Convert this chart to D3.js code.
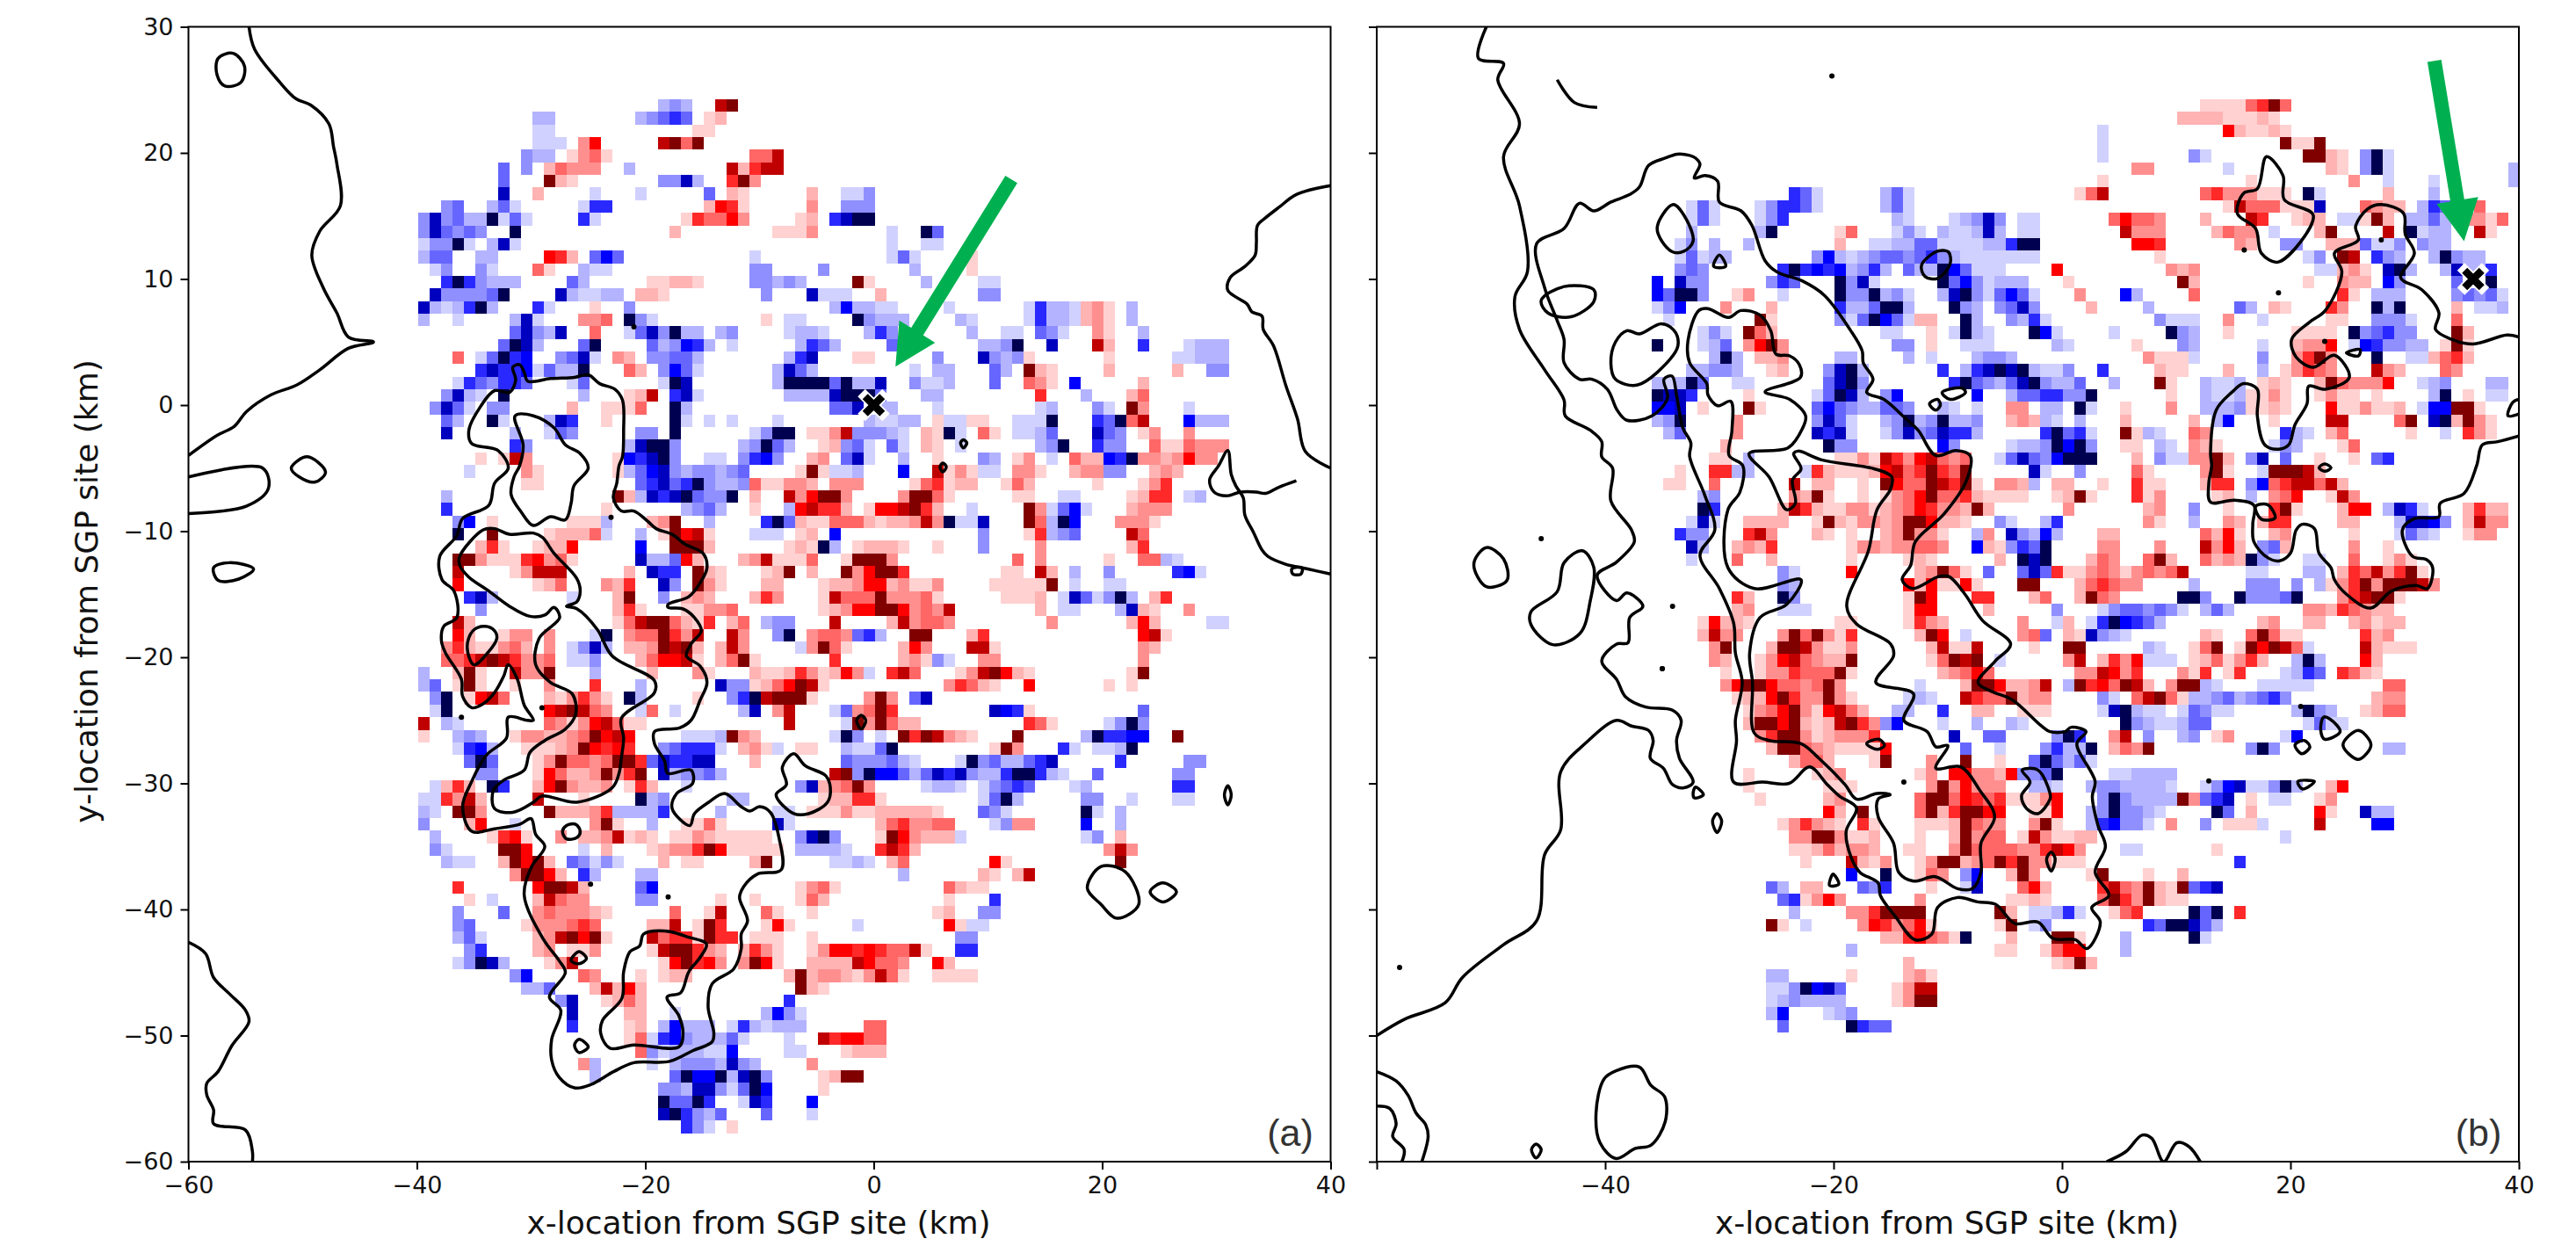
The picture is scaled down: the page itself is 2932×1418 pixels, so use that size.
<!DOCTYPE html>
<html>
<head>
<meta charset="utf-8">
<script src="https://cdn.jsdelivr.net/npm/d3@7"></script>
<style>
html, body { margin: 0; padding: 0; background: #fff; }
svg { display: block; }
text { font-family: "DejaVu Sans", sans-serif; fill: #111; }
</style>
</head>
<body>
<script>

const xTicks = [-60, -40, -20, 0, 20, 40];
const yTicks = [-60, -50, -40, -30, -20, -10, 0, 10, 20, 30];

const levelKeys = "abcdefghABCDEFGH";
const levelValues = [-.09, -.15, -.22, -.3, -.42, -.5, -.68, -.99, .09, .15, .22, .3, .42, .5, .75, 1];

// each row: y, then pairs of x start and a run of levels ("." is empty)
const cellsA = [
[23,-19,"bcb",-14,"GH"],[22,-30,"bb",-21,"bcded.AB"],[21,-30,"aa",-16,"AA"],[20,-30,"aaa",-26,"CF",-19,"GHDH"],
[19,-31,"cbb",-27,"ACDA",-11,"DDG"],[18,-33,"d",-31,"c",-29,"BDCCC",-22,"b",-13,"GBEGG"],[17,-33,"d",-29,"HBA",-19,"ccgb",-13,"EHC"],
[16,-33,"g",-30,"B",-25,"a",-21,"a",-15,"d",-13,"BA",-6,"B"],[15,-38,"cd",-34,"bda",-26,"aee",-15,"BFEA",-6,"C"],
[14,-40,"cgcdbbhada",-26,"ea",-17,"AEDDFC",-7,"AB"],[13,-40,"cgdcdc",-32,"h",-18,"B",-9,"AAAC"],[12,-40,"accha.bga"],
[11,-40,"bdd",-35,"bb",-29,"FEB",-25,"dfd",-11,"a"],[10,-39,"ac",-35,"ca",-30,"DA",-26,"baa",-11,"cc",-5,"c"],
[9,-38,"ehecbbb",-27,"db",-20,"AABBA",-11,"ccbcb"],[8,-39,"gccccdh",-28,"gbaabb",-21,"BBA",-10,"c",-6,"ga"],
[7,-40,"gbabehb",-30,"ea",-25,"A",-22,"c"],[6,-40,"b",-37,"a",-32,"bga",-26,"CCD",-22,"hca",-10,"A",-8,"aa"],
[5,-32,"dgcbg",-25,"D",-22,"adgchbb",-14,"bc",-8,"abbb"],[4,-33,"dhgb",-26,"dh",-20,"dbcfeb",-13,"a",-7,"bed"],
[3,-37,"D",-35,"adhef",-28,"cdga",-23,"CB",-20,"ccddb",-8,"beg"],[2,-35,"egeefadbbh",-22,"DB",-19,"cfda",-9,"bgdb"],
[1,-37,"aedceed",-27,"ad",-19,"ahg",-9,"bhhhh"],[0,-38,"cgba",-33,"h",-26,"b",-22,"ABG",-18,"ega",-8,"bbbb"],
[-1,-39,"cgda",-34,"cc",-27,"B",-24,"AAAD",-18,"hb"],[-2,-38,"db",-34,"ha",-29,"bge",-24,"A",-18,"ha",-15,"a",-13,"a",-9,"a"],
[-3,-38,"g",-32,"b",-29,"adc",-21,"cc",-18,"h",-11,"achh",-6,"AA"],[-4,-32,"ec",-22,"bghhc",-12,"bchdb",-5,"A"],
[-5,-35,"A",-33,"AGC",-23,"Afeghc",-15,"aa",-12,"cefc",-6,"BC"],[-6,-36,"a",-31,"CA",-23,"Abdfgcbccbcd",-7,"AHA"],
[-7,-31,"AA",-21,"degdehcbbc",-11,"DAACCB"],[-8,-38,"b",-23,"HBbgeghdcch",-11,"B",-8,"GCFH"],
[-9,-38,"e",-24,"A",-17,"bcdb",-11,"A",-8,"bFGF"],[-10,-37,"cf",-34,"A",-27,"AAAb",-20,"BCH",-15,"b",-10,"ehd",-7,"BAA"],
[-11,-37,"h",-34,"H",-29,"ABBBDa",-21,"b",-19,"AHFGA",-11,"aaa",-7,"AB"],[-12,-35,"BEA",-30,"ABBF",-21,"f",-18,"HHHB",-8,"ABAh"],
[-13,-37,"HHCAAAEFCDA",-21,"gbbdFB",-12,"BCGAAAD"],[-14,-37,"G",-32,"ACGGG",-22,"B",-20,"gee",-16,"HBA",-10,"ABH.B"],
[-15,-37,"F",-30,"ABD",-24,"CBE",-19,"gc",-16,"HCA",-10,"BB",-5,"A"],[-16,-36,"egb",-27,"a",-23,"BH",-19,"c",-17,"BCB",-11,"BEC",-5,"A"],
[-17,-35,"c",-23,"BEA",-17,"AACCD"],[-18,-37,"GB",-23,"ADGHHDBAE",-13,"BD",-10,"bcc"],
[-19,-37,"FB",-33,"ACC",-29,"C",-25,"ah",-22,"CDDHECG",-13,"GC",-9,"ch",-6,"CC"],[-20,-38,"CEBAACDB",-29,"C",-27,"acgb",-22,"BBCHGHB",-14,"BGC",-7,"aCH"],
[-21,-38,"DDEGHGECCD",-27,"aac",-21,"BDFFGA",-14,"BDH",-11,"A"],[-22,-40,"b",-37,"BHA",-32,"GCCH",-25,"b",-20,"B",-16,"CA",-11,"BAABECB"],
[-23,-40,"bd",-37,"AHA",-32,"A",-29,"C",-25,"E",-21,"b",-14,"gccABDFHGB"],[-24,-39,"ch",-36,"AFGD",-29,"BACECA",-22,"hb",-16,"A",-13,"cehGHHHA"],
[-25,-39,"ah",-29,"FGHGDC",-21,"aD",-18,"a",-12,"bg",-9,"CG"],[-26,-40,"G",-38,"ba",-29,"DCACFGDAA",-8,"G"],
[-27,-40,"A",-37,"bcb",-32,"ACCBBCDHFGF",-17,"aaabHCB"],[-28,-37,"aefb",-31,"AAABCHFEFE",-19,"cdeeea",-12,"BCAa",-7,"AA"],
[-29,-36,"dhd",-30,"ACHDDCDHHEdgeegg",-11,"B"],[-30,-35,"cc",-30,"AFDBBCHCEH",-19,"gbccdb"],
[-31,-39,"aBEB.he",-30,"BFHCBBC",-22,"AEB",-17,"a",-7,"cgB"],[-32,-40,"aaECGB",-30,"G",-26,"A",-21,"hbc",-13,"bb"],
[-33,-40,"ba",-37,"HHC",-29,"HBBBCEbbbbe",-14,"b",-9,"aa",-6,"AA"],[-34,-40,"c",-36,"BF",-32,"a",-25,"CHA",-20,"b",-17,"AADA",-9,"ga"],
[-35,-39,"b",-34,"AEFA",-28,"C",-26,"BBCGABA",-18,"AACBAAAAA",-7,"cgh"],[-36,-39,"ca",-33,"HHF",-26,"a",-24,"B",-20,"ABCCEHFAAAAA",-7,"bbb"],
[-37,-38,"baa",-33,"BHFHB",-27,"dcaca",-19,"B",-17,"AA",-11,"BH",-4,"aaba",1,"BD"],[-38,-32,"CHHFB",-26,"eb",-21,"bb",2,"b",9,"BA"],
[-39,-37,"E",-30,"FHHGB",-21,"df",-7,"ACDA",6,"DBAA"],[-40,-36,"A",-34,"a",-30,"BGDCC",-21,"cc",-14,"A",-11,"A",-7,"ADB",6,"A",10,"e"],
[-41,-37,"c",-33,"d",-30,"CDCCCBA",-18,"D",-15,"AG",-10,"DA",-6,"A",5,"AB",9,"cc"],[-42,-37,"cd",-31,"ACCCDED",-20,"BBG",-16,"AHE",-10,"AFA",-2,"a",6,"FAaa"],
[-43,-37,"bda",-30,"BCGHFHA",-20,"GDEEAHEE",-11,"AAA",-6,"A",7,"cc"],[-44,-36,"ce",-30,"BC",-27,"AAC",-20,"AGHHECB",-12,"BECA",-6,"ACFFEFEDDGA",7,"ee"],
[-45,-37,"achgb",-29,"ACG",-19,"AFHEFC",-12,"CHFA",-6,"BBBBGFDDC",5,"FB"],[-46,-32,"cf",-26,"DC",-21,"A",-19,"ABB",-8,"BHBCCBACGDA",5,"AAAA"],
[-47,-31,"bbd",-25,"BGBFB",-7,"HBA"],[-48,-28,"cg",-24,"ABDB",-8,"e"],[-49,-27,"g",-22,"BB",-18,"a",-10,"bfca"],
[-50,-27,"e",-22,"AB",-19,"bfbbb",-13,"aebabbb",-1,"DD"],[-51,-22,"ADaefcbbb",-13,"da",-8,"a",-5,"GEFFDD"],
[-52,-21,"Dcabbbaaf",-8,"aa",-3,"ABBB"],[-53,-26,"Cb",-20,"a",-18,"bcccbgcb",-6,"C"],[-54,-25,"b",-18,"dhffhbghc",-5,"ABHH"],
[-55,-19,"ccbggcadhf",-5,"A"],[-56,-19,"hddhe",-12,"age",-6,"f"],[-57,-19,"ghecbd",-10,"d",-6,"a"],[-58,-17,"eca",-13,"A"],
[16,-3,"aac"],[15,-3,"ccc"],[14,-4,"eghh"],[13,1,"a",4,"hd"],[12,1,"a",4,"aa"],[11,1,"ada",8,"A"],[10,-5,"c",3,"b",8,"A"],
[9,-2,"HA",4,"b",9,"aa"],[8,-4,"aa",0,"B",9,"cc"],[7,-4,"bfbbaa",6,"a",13,"aebbaBCA",22,"b"],[6,-2,"hcbbb",7,"ba",13,"aebbaBCA",22,"b"],
[5,-5,"a",-1,"bec",8,"b",11,"aa",14,"dca",19,"CA",23,"b"],[4,-4,"b",1,"d",9,"bbch",15,"g",19,"GB",23,"e",27,"abbb"],
[3,-2,"AA",5,"c",9,"gcbcA",20,"A",26,"aabbb"],[2,3,"a",5,"bb",10,"db",13,"HBA",20,"B",26,"B",29,"cc"],
[1,-5,"hdhbbg",3,"caab",10,"d",13,"DCA",17,"f",23,"B"],[0,-4,"ghhhd",4,"bb",14,"E",18,"b",22,"BD"],
[-1,-4,"ddg.bb",5,"a",14,"ab",19,"ca",22,"HC",27,"a"],[-2,-1,"baabb",5,"AaaAA",12,"aaah",19,"edhDG",27,"fbbb"],
[-3,-5,"ACGcccba",4,"BAha",9,"DA",12,"aabd",19,"gdc",23,"AC",27,"C"],[-4,-5,"ABcda",1,"da",4,"BA",7,"a",14,"bch",19,"ecc",24,"DAADCCC"],
[-5,-5,"C",-3,"dga",2,"b",5,"A",9,"cb",12,"AC",15,"a",17,"DBBfehCCBCFCC"],[-6,-4,"aab",2,"f",5,"GACAaa",12,"CCA",17,"BCCcc",24,"BCB"],
[-7,-4,"CCC",3,"ADEABB",11,"ADB",19,"A",23,"ACE"],[-8,-5,"HHC",2,"CHHDA",12,"AA",16,"aa",22,"ABEE",27,"ab"],
[-9,-5,"EEB",-1,"AFFGHEB",8,"a",13,"HCadfa",22,"BCCC"],[-10,-4,"DDDBABBCGChaag",13,"HDbhf",21,"CCCA"],
[-11,-4,"f",9,"c",13,"AEbcd",22,"GD"],[-12,-5,"hb",-2,"ABBBA",5,"A",9,"c",14,"C",22,"BE"],[-13,-3,"AHHHC",12,"D",14,"C",20,"A",23,"DDba"],
[-14,-3,"HCFHHE",11,"AA",14,"GB",17,"b",20,"c",26,"efa"],[-15,-5,"ABBCFFBCAAC",10,"AAAAAH",17,"a",20,"aa"],
[-16,-4,"GDDDHCCCDA",11,"AAAB",16,"agdachb",24,"BE"],[-17,-5,"ABCFFHHFCDCG",14,"B",16,"aa",21,"bgBA",27,"C"],
[-18,-4,"G",1,"BGCDDC",15,"C",22,"BFB",29,"aa"],[-19,-5,"DDCdeb",3,"HH",8,"BE",23,"FGA"],[-20,-5,"HDA",2,"BFC",8,"GGA",23,"CB"],
[-21,-4,"E",2,"BCAca",9,"CC",23,"C"],[-22,-5,"ABFCa",1,"EGD",7,"ACGHFBA",22,"AH"],[-23,-5,"A",6,"CEDBA",13,"F",20,"A",22,"A"],
[-24,-1,"CHC",3,"dg"],[-25,-4,"adCDHE",10,"gfeA",23,"d"],[-26,-3,"aHCHDBB",13,"EDA",20,"achc"],
[-27,-4,"ahc.a.HEHGCBA",12,"H",18,"bheeff",26,"H"],[-28,-3,"baadh",10,"AHC",16,"ea",19,"aabh"],[-29,-3,"dcccdba",7,"ahcdbbdeg",21,"e",27,"cc"],
[-30,-4,"GHchffdbdgegcbbehheba",19,"d",26,"cc"],[-31,-4,"CDHC",4,"abba",9,"acded",17,"ab",26,"ee"],[-32,-5,"ABBEEA",9,"adhb",18,"cc",22,"a",26,"aa"],
[-33,-4,"ACAABBBBBA",9,"dca",18,"ha",21,"b"],[-34,0,"BDECCDD",10,"acCC",18,"f",21,"b"],[-35,-5,"hc",0,"AHFCBBBa",18,"ac",21,"B"],
[-36,-4,"ba",0,"EGEB",20,"CGC"],[-37,10,"FA",21,"H"],[-38,12,"BG"]
];

const cellsB = [
[16,-24,"eda",-16,"bda"],[15,-33,"ada",-27,"aceeda",-16,"bda"],[14,-33,"ada",-27,"ace",-15,"ba",-10,"abcgc",-4,"aa"],
[13,-33,"b",-27,"bh",-20,"AD",-15,"aca",-11,"baabgb",-4,"aa"],[12,-34,"ac",-31,"b",-28,"b",-20,"B",-17,"aabbddaaaabbehh"],
[11,-34,"adabb",-22,"cfbabcddcdecb",-9,"aaaaaaa"],[10,-34,"cdc",-25,"ehefefbceb",-14,"dbbhfdaaa",-1,"F"],
[9,-36,"f",-34,"gcc",-26,"ced",-20,"hcga",-11,"hdfcabbb"],[8,-36,"fdhhc",-29,"AC",-25,"a",-20,"hcchbca",-11,"bghcadfda"],
[7,-36,"acf",-30,"C",-26,"B",-20,"ebbdhhb",-10,"hcb.cdgc"],[6,-35,"a",-27,"HA",-20,"cadhfdaBB",-9,"hb",-5,"cbea"],
[5,-32,"aca",-28,"HDB",-16,"aa",-12,"A",-10,"ahba",-3,"hf"],[4,-36,"h",-32,"abd",-28,"CFHC",-15,"cc",-12,"A",-9,"aaa",-1,"a"],
[3,-31,"bhb",-27,"BBC",-20,"bb",-14,"b",-12,"a",-8,"bccb"],[2,-33,"bbccb",-26,"AB",-21,"cghb",-11,"e",-9,"beghghbaa"],
[1,-36,"babhd",-29,"aa",-21,"dghc",-10,"ehdcbdghcb"],[0,-36,"hgge",-28,"A",-22,"adhgb",-16,"cf",-8,"f",-5,"bddee"],
[-1,-36,"ffg",-32,"A",-28,"HA",-22,"dfdcbbddc",-11,"ba",-8,"a",-5,"CC",-2,"bb"],[-2,-36,"bch",-29,"C",-22,"cgda",-16,"bchbchbbc",-5,"BCBbb"],
[-3,-35,"bd",-29,"C",-22,"gega",-16,"acgcdgeeb",-2,"eh"],[-4,-30,"B",-21,"hcc",-11,"fc",-5,"abbch"],
[-5,-31,"AA",-28,"b",-20,"AACAGECFGDCD",-6,"adgdceh"],[-6,-34,"A",-31,"EEbb",-23,"aEBAAABFGDEHEDH",-3,"ga"],
[-7,-35,"AA",-31,"D",-24,"G",-22,"BB",-18,"A",-16,"HFDDHGEHA",-6,"CCBb",-1,"BC"],[-8,-32,"bc",-24,"CBHA",-18,"A",-16,"ACDFHDDEBAAAA",-1,"AA"],
[-9,-32,"he",-25,"BGEBAACCAB",-15,"CDFECCBHB",0,"D"],[-10,-33,"aga",-28,"BBBB",-22,"AHBACC",-16,"BCHHFBBA",-6,"ca",-2,"be"],
[-11,-34,"ecc",-28,"EGC",-22,"BA",-19,"A",-16,"BCHCCA",-8,"bC",-5,"gcbfb"],[-12,-33,"gb",-29,"BCBE",-19,"ACCBCCDDC",-8,"fBA",-5,"cedh"],
[-13,-33,"a",-29,"D",-26,"B",-19,"A",-14,"ABA",-6,"B",-4,"hgh"],[-14,-25,"ca",-19,"F",-13,"BCHDA",-7,"d",-4,"dgdEA"],
[-15,-25,"cb",-14,"FBFAAFA",-4,"HH"],[-16,-29,"EB",-25,"hc",-14,"AHF",-8,"EE",-3,"BD"],[-17,-29,"BC",-25,"aaa",-14,"AFF",-7,"B",-1,"c"],
[-18,-32,"AFBBA",-20,"AA",-14,"AECB",-4,"C",-1,"aB"],[-19,-32,"BGCC",-25,"CHDHCAE",-13,"BHF.a",-4,"CDd",0,"B"],
[-20,-31,"CH",-26,"BHHGCAAC",-12,"BGAAG",-3,"A",0,"H"],[-21,-31,"CB",-27,"ACFGDCBBH",-12,"ADHGH",-6,"a",0,"C"],
[-22,-30,"A",-27,"ACCEDDDHA",-11,"BCDFD"],[-23,-30,"CFHHFDDCDHC",-13,"a",-9,"BHHFBBCG",0,"b"],[-24,-29,"ABBFHECCHCA",-14,"aba",-9,"GEDDHBCC"],
[-25,-28,"ACDFHCAFGDB",-15,"bb",-11,"e",-8,"BB",-4,"AAA"],[-26,-28,"BHHFHBABGHECcf",-11,"a",-8,"b",-5,"ba"],
[-27,-27,"CEHHCABCCCE",-10,"g",-7,"dd",-1,"ch"],[-28,-26,"BHHDCBAAAAF",-9,"d",-6,"a",-2,"cec"],
[-29,-24,"BDDB",-17,"AH",-12,"C",-9,"H",-6,"A",-3,"dhda"],[-30,-28,"A",-22,"ABC",-13,"AC",-10,"FFCCBFccdg"],
[-31,-28,"A",-21,"AAA",-12,"CHCFCCC",-3,"bba"],[-32,-27,"A",-21,"BC",-13,"DHHDFEDE",-5,"AAACF"],[-33,-21,"FB",-18,"H",-13,"DHBEHHFF",-3,"AAF"],
[-34,-25,"ACECBA",-18,"EA",-13,"AAABHDCC",-3,"CHA"],[-35,-24,"CCHHCAAB",-13,"A",-10,"BHCDD",-4,"AGCAABB"],
[-36,-24,"AABDBCCB",-14,"AA",-10,"CHDDDDCCEGFC",5,"aa",13,"A"],[-37,-23,"A",-19,"GBAC",-13,"ACHHBCDHEHCCAAA",15,"e"],
[-38,-19,"f",-16,"h",-13,"ADC",-9,"cf",-5,"BHC",2,"AH",7,"A",10,"B"],[-39,-26,"db",-23,"BB",-18,"dce",-12,"A",-9,"ag",-4,"DFB",3,"EGDCHBAH",11,"deg"],
[-40,-25,"deACFC",-13,"C",-5,"AABA",3,"DHECHBAA"],[-41,-24,"b",-19,"CCEHHHH",-6,"HB",-3,"aabea",4,"ADE",11,"hdh",15,"E"],
[-42,-26,"HA",-23,"a",-18,"CFECDFA",-6,"AH",-3,"ac",7,"edhhgdb"],[-43,-16,"BBEFDCAh",-5,"B",-1,"HHA",5,"b",11,"ha"],
[-44,-19,"b",-6,"AA",-2,"ADFF",5,"b"],[-45,-14,"B",-1,"ABHB"],[-46,-26,"bb",-19,"A",-14,"BCA"],[-47,-26,"aachfgd",-15,"ACGG"],
[-48,-26,"abcbbbb",-15,"ACHH"],[-49,-26,"bf",-21,"abc"],[-50,-25,"d",-19,"hedd"],
[23,12,"AAAADEHD"],[22,10,"BBBBAAABA"],[21,3,"a",14,"FBAABA"],[20,3,"a",19,"HAA",22,"H"],[19,3,"a",11,"ca",21,"HHBA",26,"cha"],
[18,6,"CC",14,"a",23,"BA",26,"cha",39,"b"],[17,3,"A",16,"A",25,"C",28,"a",32,"a",39,"b"],[16,1,"ADG",12,"DECCCAAA",21,"ha",28,"B",32,"b"],
[15,14,"AGDDDAAAg",26,"DCBB",31,"bed",36,"D"],[14,4,"DFDDC",12,"B",16,"GE",20,"ABB",24,"aaAHB",30,"bbdb",35,"CCAD"],
[13,5,"GCCC",13,"BDCC",18,"a",22,"BH",28,"G",30,"habb",36,"GA"],[12,6,"FFE",15,"CB",19,"cc",23,"BBBdaac",31,"cbb"],
[11,8,"A",21,"ac",24,"HG.ecb",32,"bhcbb"],[10,-1,"F",9,"CBC",22,"aaBCA",28,"ghb",33,"bgbbe"],[9,0,"A",10,"HB",21,"A",24,"CBB",28,"fc",34,"d",37,"h"],
[8,1,"C",5,"fb",11,"D",24,"EA",27,"bbb",34,"cdcda"],[7,2,"B",7,"b",15,"db",18,"BA",23,"EC",27,"hbh",34,"B",36,"aab"],
[6,8,"caaa",14,"C",17,"a",23,"AA",27,"ccca",34,"D"],[5,-1,"a",4,"a",9,"hcb",14,"A",20,"AAAA",25,"hcdecc",34,"HB"],
[4,-1,"ba",6,"A",10,"cb",17,"a",20,"BCCF",25,"afeccbb",33,"AHA"],[3,7,"CAAAa",17,"c",20,"CEHC",27,"h",30,"aa",32,"BDEB"],
[2,-1,"ac",3,"e",8,"BAA",14,"B",17,"b",19,"ACEDC",27,"GCB",33,"DC"],[1,-1,"bbd",4,"b",8,"HA",12,"baab",17,"ABA",22,"BHDCCCF",31,"abc",37,"bb"],
[0,-1,"ecch",9,"A",12,"baabAACA",22,"ACAA",27,"A",32,"bh",35,"A",37,"aa"],[-1,-1,"b.ha",5,"A",9,"C",12,"bbbcAABA",23,"FAACAAB",31,"affHHA"],
[-2,-1,"a.b",5,"B",11,"B",13,"bf",18,"A",23,"GG",29,"DH",32,"ghBHCA"],[-3,-1,"hdea",5,"HAba",11,"DC",19,"eba",23,"BD",30,"A",33,"a",35,"ECA"],
[-4,-1,"hfhc",5,"AA",8,"ba",11,"CBA",18,"acb",24,"AD"],[-5,-1,"fhhh",6,"B",8,"caa",11,"CCHB",16,"cg.d",22,"A",25,"A",27,"de"],
[-6,1,"c",6,"DA",12,"CHA",17,"aHHHGB"],[-7,0,"B",3,"A",6,"EAA",12,"BEE",16,"cfDEGGDGB"],[-8,-1,"ABHA",6,"EAC",13,"AB",16,"b.CDF",23,"AGC"],
[-9,0,"C",7,"BC",11,"c",14,"A",18,"EHA",24,"BFF",28,"bgea",35,"BEBB"],[-10,-1,"e",7,"CA",11,"b",14,"CB",17,"BEE",24,"BB",29,"bggfc",35,"BGCC"],
[-11,-1,"b",3,"BB",12,"DBFA",18,"BC",25,"A",29,"adba",35,"ACC"],[-12,3,"CC",8,"C",12,"GCFB",17,"cdB",25,"C",28,"A"],
[-13,2,"BDC",7,"DHB",12,"DBCBhca",21,"aa",25,"D",28,"ACA"],[-14,-1,"EAACDCACDCDG",16,"aa",21,"bb",24,"BEDGCEHA"],
[-15,1,"BDEDCC",11,"b",16,"ccc",20,"c",22,"bACEHCHHHGC"],[-16,1,"BHDC",10,"hhc",15,"hcccdh",24,"CEGHHA"],[-17,-1,"c",3,"acddcdca",12,"bdb",21,"CCBEDCBB"],
[-18,-1,"aB",2,"aehfedb",17,"BC",21,"BB",25,"BCABB"],[-19,0,"BAgcba",12,"BA",16,"DHDAA",26,"EBC"],[-20,0,"HH",7,"ba",11,"ADH",15,"AHFHGDa",26,"GBAAA"],
[-21,0,"CG",3,"BECFaaa",11,"ABDACEB",20,"bhb",26,"FB"],[-22,1,"CCGFCE",10,"CAE.AE",19,"abed",24,"EDBA"],[-23,0,"bHEFDHGB.CHHba",17,"aaaaa",28,"DD"],
[-24,3,"ca.DGHDAbbcdbcdec",27,"BCC"],[-25,3,"aghbaa.adcaa",20,"bhcb",26,"ABDD"],[-26,5,"hcbaabdd",21,"adaa"],[-27,-1,"che",4,"CG.c",10,"bc",13,"AC",19,"af"],
[-28,-1,"ebbh",4,"BDCH",16,"chc",28,"bb"],[-29,-1,"dbda"],[-30,-1,"h",4,"aabbbb"],[-31,-1,"a",2,"bccbbbba",12,"acfgaachb",23,"BF"],
[-32,3,"chcbbbbHCdeg",16,"A",18,"aa",22,"AC"],[-33,2,"bchccba",13,"hd",16,"B",22,"FA",26,"gbb"],[-34,2,"befcca",9,"C",12,"c",14,"AAAa",22,"G",27,"ff"],[-35,19,"a"]
];

// closed contours, panel (a)
const loopsA = [
[[-31.6,3],[-31,3.2],[-30.6,2.6],[-30.3,1.9],[-28.3,2.1],[-26.2,2.2],[-25,2.4],[-24,1.7],[-22.65,1.25],[-22,.4],[-21.9,-2],[-22,-4.1],[-22.3,-4.8],[-22.5,-6.2],[-22.8,-7.35],[-22.1,-8.4],[-21,-8.4],[-19.8,-9.2],[-19.05,-9.8],[-17.65,-10.25],[-16.5,-11.05],[-14.95,-11.75],[-14.6,-12.9],[-15.2,-14.1],[-16.2,-15.2],[-18,-15.8],[-18,-16.05],[-16.75,-16.15],[-15.7,-16.85],[-15.1,-17.9],[-16,-18.95],[-16.4,-19.9],[-15.2,-20.7],[-14.6,-22],[-15.2,-23.4],[-16,-25],[-17,-25.6],[-19.2,-25.9],[-19.2,-26.85],[-18.3,-28.25],[-18.05,-29.2],[-16,-28.95],[-15.85,-30],[-17.25,-30.8],[-17.65,-32],[-16.1,-33.35],[-15.7,-32.4],[-14.45,-31.5],[-13.05,-30.8],[-11.6,-31.85],[-10.85,-32.2],[-10,-31.85],[-9.05,-32.3],[-8.3,-34.3],[-8.1,-36.85],[-10.2,-37.2],[-11.4,-38.2],[-11.75,-39.05],[-11.05,-40.9],[-11.6,-41.95],[-11.6,-43.1],[-12.25,-44.7],[-14.15,-45.9],[-14.5,-47.75],[-14,-49.8],[-14.15,-50.5],[-15.85,-51.2],[-17.9,-52.05],[-21,-52.15],[-22.75,-52.85],[-24.8,-53.9],[-26.2,-54.15],[-27.55,-53.3],[-28.2,-51.95],[-28.2,-50.3],[-27.4,-48],[-28.4,-46.95],[-27,-45],[-27.55,-44.05],[-28.9,-42.4],[-30.6,-38.9],[-29.95,-36.6],[-28.8,-35],[-29.6,-34.05],[-30,-32.8],[-31,-33.25],[-33.2,-33.6],[-35.2,-33.8],[-36,-31.85],[-35.2,-29.85],[-33.95,-27.8],[-32.15,-26.4],[-32,-24.75],[-30.35,-25],[-29.8,-25],[-30.6,-23.8],[-31.2,-21.75],[-32,-20.6],[-32.4,-21.5],[-33.2,-22.8],[-34.2,-23.7],[-35.2,-24],[-36,-23.1],[-36.1,-21.75],[-37.5,-19.65],[-37.85,-18.7],[-37.65,-17.55],[-36.5,-16.85],[-36.75,-14.75],[-37.8,-13.85],[-38,-12],[-36.5,-10.35],[-36,-9],[-33.7,-7.95],[-33.2,-6.2],[-32,-5],[-32.9,-3.6],[-35.2,-3.05],[-35.45,-2],[-34.45,-.15],[-33.2,1.15],[-31.9,1],[-31.35,2]],
[[-31.4,-.85],[-29.8,-.85],[-28,-1.8],[-27,-3.15],[-25.7,-3.85],[-25,-5],[-26.25,-6.4],[-26.5,-7.8],[-27,-9.1],[-28.3,-8.85],[-29.8,-9.55],[-30.85,-8.5],[-31.75,-7.1],[-31.5,-5.7],[-31,-4.8],[-30.7,-3.15]],
[[-36.25,-12],[-34.2,-9.9],[-33.2,-9.8],[-31.9,-10.25],[-29.8,-10.15],[-29,-10.5],[-28,-11.75],[-26,-13.75],[-25.7,-14.75],[-26,-15.6],[-26.9,-15.95],[-26,-16.15],[-24.2,-17.8],[-22.9,-19.9],[-19.2,-21.85],[-19.2,-22.8],[-22.1,-24.85],[-21.9,-26.4],[-22.1,-28],[-22.3,-29.2],[-22.9,-30.35],[-26,-31.5],[-29.05,-31],[-29.8,-31.5],[-31.6,-32.3],[-33.2,-32],[-33.3,-30.55],[-32.4,-29.75],[-30.6,-28.95],[-30.1,-27.55],[-28.8,-26.6],[-27,-25.7],[-26.1,-24.5],[-26.4,-22.9],[-28.3,-22],[-29.6,-20.6],[-29.3,-18.5],[-27.5,-16.85],[-28,-16.05],[-28.8,-16.65],[-30.1,-16.75],[-31.9,-15.95],[-33.7,-14.75],[-35.5,-13.6],[-36.25,-12.7]],
[[-35.6,-19.2],[-35,-20.6],[-33.8,-19.65],[-33,-18.5],[-33.2,-17.9],[-34.05,-17.55],[-35.1,-17.9]],
[[-27.25,-33.8],[-26.9,-33.35],[-26.1,-33.25],[-25.7,-33.8],[-26,-34.3],[-26.9,-34.4]],
[[-8,-28.7],[-7,-27.65],[-6,-28.6],[-4.2,-29.4],[-3.8,-30.35],[-4.05,-31.5],[-5.7,-32.4],[-7,-32.4],[-8.55,-30.9],[-7.65,-30.1]],
[[-26.5,-44.05],[-25.8,-43.35],[-25.15,-43.9],[-25.8,-44.3]],
[[-26.2,-50.75],[-25.8,-50.3],[-25,-50.9],[-25.8,-51.35]],
[[-20.15,-41.95],[-18.3,-41.7],[-16.2,-42.2],[-14.65,-42.75],[-15.2,-43.8],[-16.2,-44.95],[-16.9,-46.6],[-18.1,-46.95],[-17.05,-48.45],[-16.7,-49.85],[-17.05,-50.9],[-21,-50.75],[-23.1,-51],[-23.9,-49.85],[-23.75,-48.8],[-22.05,-47.05],[-21.9,-44.95],[-21.35,-43.35],[-20.5,-42.9]],
[[-57.4,27.5],[-56.1,27.9],[-55.1,26.9],[-55.4,25.6],[-56.8,25.3],[-57.5,26.2]],
[[-51,-5],[-49.6,-4.1],[-48,-5.3],[-48.9,-6.1],[-50.3,-5.7]],
[[-57.8,-12.9],[-56.4,-12.5],[-54.3,-13],[-55.6,-13.8],[-57.4,-13.9]],
[[18.7,-38.3],[19.9,-36.6],[22,-37],[23.2,-39.6],[21.3,-40.7],[19.9,-39.6]],
[[24.2,-38.6],[25.3,-37.9],[26.5,-38.6],[25.3,-39.4]],
[[-1.5,-25],[-1.1,-24.6],[-.7,-25],[-1.1,-25.7]],
[[30.7,-30.9],[31,-30.2],[31.3,-30.9],[31,-31.7]],
[[5.8,-4.9],[6.05,-4.6],[6.35,-4.9],[6.05,-5.3]],
[[7.6,-3],[7.85,-2.75],[8.15,-3],[7.85,-3.4]],
[[36.6,-13],[37.5,-12.9],[37.4,-13.4],[36.7,-13.4]]
];

// contours that run off the panel, panel (a)
const linesA = [
[[-54.7,30],[-54.2,28.2],[-52,25.6],[-50.6,24.3],[-49.3,23.8],[-47.7,22.3],[-47.3,20.5],[-47,19.1],[-46.7,15.8],[-48.5,13.8],[-49.2,11.9],[-48.2,9.3],[-47,7.3],[-46,5.4],[-43.8,5],[-46,4.5],[-48.5,2.8],[-50.5,1.6],[-52.8,.8],[-54.9,-.5],[-56,-1.7],[-57.5,-2.4],[-60,-4]],
[[-60,-5.7],[-53.5,-5],[-53,-6.6],[-54.9,-8],[-60,-8.6]],
[[-60,-42.6],[-58.5,-43.5],[-57.8,-45.4],[-56.4,-46.7],[-55,-48],[-54.7,-48.9],[-56.2,-50.8],[-57.4,-52.85],[-58.4,-53.8],[-58.4,-54.7],[-57.8,-55.9],[-57.8,-57],[-55,-57.5],[-54.4,-59.2],[-54.4,-60]],
[[40,17.4],[37,16.7],[35.5,15.7],[34.3,14.85],[33.6,14.25],[33.5,12.85],[33.4,11.9],[32.5,11],[31.2,10.1],[31,9.1],[32.7,8],[33.1,7.4],[34,7.05],[34.1,6],[35,4.7],[36.1,1.5],[37.1,-1.1],[37.8,-3.7],[40,-5]],
[[37,-6],[35.5,-6.5],[34.3,-7],[33.5,-6.9],[32.1,-6.9],[30.9,-7.2],[29.8,-6.9],[29.4,-5.95],[30.2,-4.8],[31,-3.6],[31.3,-5.5],[31.7,-6.4],[32.35,-7.35],[32.5,-8.75],[33.25,-10.1],[34,-11.5],[34.5,-12],[36,-12.6],[38,-13],[40,-13.4]]
];

const dotsA = [[-36.1,-24.75],[-29.05,-24],[-23,-8.9],[-24.8,-38],[-18,-39],[-21,6.2]];

// closed contours, panel (b)
const loopsB = [
[[-33.7,19.9],[-32.6,19.8],[-32.1,19.6],[-31.7,19.1],[-32.2,18],[-31.25,18.2],[-30.15,17.75],[-30,16.1],[-28.1,15.4],[-27.15,14.25],[-26,11.45],[-24.95,10.55],[-22.75,9.85],[-20.8,8.7],[-18.5,5.9],[-17.5,4.3],[-17.4,3.35],[-16.55,2.05],[-17.1,1],[-15.6,.45],[-13.95,-.85],[-12.6,-2],[-11.05,-4],[-9.3,-3.6],[-8.05,-4],[-8.35,-5.95],[-10.3,-8.6],[-12.85,-10.85],[-13.25,-12.7],[-14,-13.85],[-13.1,-14.55],[-10.8,-13.6],[-9.9,-13.6],[-8.5,-15],[-6.95,-17.1],[-4.5,-18.95],[-5.9,-20.35],[-7.35,-22],[-6.2,-22.7],[-4.4,-23.35],[-1.8,-25.45],[-1.05,-25.9],[.25,-25.9],[.8,-25.55],[2.1,-25.9],[1.3,-26.85],[2.9,-29.85],[2.65,-31.05],[3.15,-33.35],[3.8,-35],[2.9,-37.05],[4.1,-38.9],[2.6,-39.85],[3.35,-41],[2.2,-43.1],[1.15,-42.4],[-.8,-42.3],[-2.1,-41],[-4.15,-41.1],[-5.8,-39.6],[-7.4,-39.4],[-9.15,-39.05],[-10.9,-39.85],[-11.4,-41.95],[-12.85,-42.4],[-14.6,-40.55],[-15.9,-38.9],[-16.1,-37.9],[-17.7,-37.05],[-18.45,-35.9],[-18.9,-33.8],[-18,-31.95],[-19.5,-31],[-20.55,-30.1],[-22.1,-28.7],[-23.9,-30],[-26.2,-29.9],[-28.75,-29.9],[-28.5,-26.6],[-28.6,-25],[-28,-22],[-28.6,-19.65],[-28.75,-17.3],[-30,-14.55],[-31.7,-11.9],[-30.4,-9.9],[-31.3,-7.1],[-32.6,-4.1],[-32.5,-3],[-33.2,-1.8],[-33.75,.8],[-34.15,2.3],[-34.85,2.05],[-34.55,.55],[-35.9,-.85],[-38.1,-1.2],[-38.95,-.4],[-39.8,1.25],[-41.15,2.05],[-42.25,2.05],[-43.6,3.35],[-43.6,5.2],[-44.2,6.7],[-45.3,9.3],[-46,12.8],[-43.6,14],[-42.25,16],[-41,15.4],[-39.5,16.1],[-37.85,16.7],[-37,17.3],[-36.2,19],[-34.7,19.6]],
[[-31.8,7.5],[-31,7.65],[-29.2,6.95],[-28.1,7.5],[-26.45,7.15],[-25.5,5.9],[-25.05,4.05],[-23.85,3.9],[-23,3.2],[-22.9,2.2],[-26,1.05],[-23.85,.45],[-22.45,-.85],[-22.75,-1.9],[-24,-3.4],[-27.4,-3.85],[-25.65,-5.7],[-24.1,-8.3],[-23.35,-7.8],[-23.6,-5.95],[-22.85,-5.05],[-23.5,-3.85],[-23.1,-3.65],[-21.05,-4.35],[-16.45,-5.05],[-14.9,-5.7],[-15,-6.65],[-16.2,-8.3],[-16.95,-11.55],[-18.85,-15.95],[-18,-17.35],[-15,-18.95],[-14.75,-19.9],[-16.3,-22],[-13,-22.9],[-13.85,-25],[-11.8,-25.9],[-11.05,-27.1],[-10,-27],[-11.05,-28.8],[-8.85,-28.7],[-7.2,-30.55],[-5.9,-32.65],[-7.1,-34.75],[-7.1,-37.05],[-7.85,-38.35],[-9.15,-38.35],[-11.1,-37.4],[-13,-37.75],[-14.3,-37.05],[-14.75,-34.75],[-16.1,-32.65],[-16.1,-31.25],[-15.05,-30.9],[-16.2,-30.8],[-18,-31.25],[-19,-30.1],[-21.3,-28],[-22.85,-26.85],[-25.65,-26.6],[-26.95,-26],[-27.1,-22],[-27.35,-19.65],[-26.45,-16.85],[-24.1,-15.8],[-22.85,-13.85],[-26.95,-14.55],[-29.25,-12.9],[-29.25,-8.3],[-28.2,-6.9],[-27.95,-4.8],[-29.15,-4],[-28.9,-2],[-29,.3],[-30.15,-.05],[-31,.8],[-31.1,1.7],[-32.6,3.35],[-32.75,5.1]],
[[-35.45,14],[-34.05,15.9],[-33.1,15.05],[-32.3,13],[-33.1,12.2],[-34.2,12.2]],
[[-43.6,9.4],[-41,9.15],[-41,8.2],[-43,7],[-45,7.3],[-45.6,8.3]],
[[-39.5,3.3],[-39.1,5],[-38.1,5.9],[-37,5.65],[-35.1,6.45],[-34,5.95],[-33.6,4.95],[-34,4],[-37.15,1.6],[-39.1,2.05]],
[[-30.5,11],[-30,11.9],[-29.45,11]],
[[-12.3,11.1],[-10.9,12.2],[-9.95,12.15],[-9.8,11.2],[-10.9,10.05],[-12,10.2]],
[[-10.5,1],[-8.75,1.35],[-8.45,1],[-9.8,.45]],
[[-11.6,.1],[-10.9,.45],[-10.65,0],[-11.05,-.4]],
[[-17.1,-26.85],[-16.05,-26.5],[-15.55,-27],[-16.2,-27.3]],
[[-32.3,-30.8],[-32.1,-30.3],[-31.4,-30.9],[-32.2,-31.15]],
[[-3.5,-28.95],[-2.1,-28.95],[-1.05,-30.8],[-1.05,-31.25],[-2.1,-32.4],[-3.1,-32],[-3.55,-31],[-2.8,-29.9]],
[[-1.35,-36],[-.95,-35.45],[-.6,-36],[-.95,-36.95]],
[[-20.35,-38.1],[-20.05,-37.2],[-19.55,-38]],
[[-46.5,-16.4],[-44.2,-14.8],[-43.6,-12.5],[-42,-11.55],[-41,-12.85],[-41.3,-15.5],[-42.2,-18.1],[-44.6,-19],[-46.5,-17.4]],
[[-51.5,-12.6],[-50.4,-11.3],[-48.9,-12.2],[-48.6,-13.9],[-50.4,-14.4]],
[[-39.05,-52.8],[-37,-52.5],[-36,-53.95],[-34.8,-54.85],[-34.75,-56.85],[-36,-58.7],[-37.35,-58.95],[-39.05,-59.75],[-40.45,-58.5],[-40.8,-56.15],[-40.1,-53.45]],
[[-46.45,-59.05],[-46.05,-58.6],[-45.6,-59.05],[-46.05,-59.7]],
[[17.9,19.7],[19.35,18.2],[19.45,16.3],[22,15.05],[18.95,11.35],[17.45,12.05],[16.95,14],[15.35,15.2],[15.9,16.8],[17.1,17.15]],
[[22.5,-4.97],[23,-4.67],[23.55,-4.97],[23,-5.25]],
[[24.9,4.15],[26.1,4.4],[25.95,3.9]],
[[16.95,-8.05],[18,-7.9],[18.65,-8.95],[17.45,-9.05]],
[[22.65,-25.8],[22.9,-24.75],[23.45,-24.9],[24.35,-25.9],[23,-26.5]],
[[24.6,-26.95],[25.95,-25.8],[27.05,-26.95],[25.95,-28.1]],
[[20.4,-26.95],[21.2,-26.6],[21.7,-27.1],[21,-27.65]],
[[20.65,-29.85],[22.1,-29.85],[21.05,-30.45]],
[[-30.6,-33],[-30.2,-32.4],[-29.8,-33],[-30.2,-33.9]]
];

const linesB = [
[[-50.4,30],[-51.1,27.5],[-48.9,27.1],[-49.4,25.8],[-47.5,22.3],[-48.9,19.7],[-47.5,15.8],[-46.8,10.6],[-47.9,8.6],[-47.5,6],[-45.3,2.8],[-43.6,.4],[-43.5,-.85],[-41.3,-2],[-40.3,-2.9],[-40.3,-4.1],[-39.35,-5],[-39.5,-7.6],[-37.7,-9.9],[-37.45,-10.85],[-39,-12.45],[-40.7,-13.5],[-39,-15.5],[-38.1,-14.9],[-36.7,-15.95],[-37.85,-16.85],[-38,-18.85],[-39,-18.95],[-40.3,-20.3],[-39,-21.75],[-38.2,-23.15],[-36.45,-23.95],[-34.1,-24.2],[-33.35,-25],[-33.75,-26.6],[-33.5,-28],[-32.3,-29.9],[-33.1,-30.35],[-34.1,-30.1],[-34.9,-28.8],[-36.05,-28],[-35.8,-26.6],[-36.2,-25.8],[-37.7,-25.45],[-39,-25],[-41.7,-26.8],[-43.9,-29.1],[-43.9,-33.7],[-45.3,-35.65],[-46,-40.9],[-48.9,-42.8],[-52.5,-45.4],[-54,-47.4],[-57.55,-48.7],[-60,-50]],
[[-44.2,25.8],[-42.7,24],[-40.7,23.6]],
[[-60,-52.86],[-58.3,-53.6],[-57.25,-54.75],[-56.55,-56.15],[-55.7,-57.1],[-55.5,-58],[-56.05,-60]],
[[-60,-55.6],[-58.85,-55.8],[-58.3,-57],[-58.6,-58],[-57.6,-59.05],[-57.8,-60]],
[[3.9,-60],[5.6,-59.2],[7,-57.9],[7.85,-58.15],[8.9,-60],[10.05,-58.5],[11.1,-58.8],[12.1,-60]],
[[40,5.4],[38.95,5.55],[36,4.85],[34.15,5.2],[32.7,6],[33,7.3],[31.5,9.15],[29.65,10.1],[30.85,12.05],[30.05,13.55],[29.9,15.2],[27.95,15.9],[26.75,15.55],[25.7,14.15],[25.95,13.1],[23.85,12.05],[24.5,10.55],[23.05,7.5],[21.7,6.6],[20.1,5.2],[20.5,3.8],[22,3],[23.85,3.95],[25.15,2.2],[23.05,1.25],[21.6,1.5],[21.45,.1],[20.4,-1.55],[19.85,-3.15],[18.95,-3.5],[17.75,-3.15],[17.1,-.85],[17.1,1.25],[15.9,1.7],[14.85,1],[13.5,-.4],[13,-3.85],[13.1,-4.8],[12.85,-6.2],[13,-7.7],[15.1,-7.55],[16.8,-7.95],[16.7,-9.45],[16.8,-10.85],[18,-12.1],[19.05,-12.35],[20,-11.75],[20.5,-9.9],[21.05,-9.45],[22.1,-9.8],[22.5,-11.75],[23.55,-12.9],[23.85,-13.85],[24.9,-15],[27,-16.1],[28.85,-14.75],[31,-14.3],[32,-14.55],[32.45,-12.9],[31.9,-12.25],[30.7,-12],[29.8,-9.9],[30.85,-9],[33,-8.85],[33.1,-7.8],[35.2,-7],[36.3,-4.8],[36.8,-3.15],[38.15,-2.9],[40,-2.45]],
[[40,.45],[39.45,.2],[39.05,-.85],[40,-.7]]
];

const dotsB = [[-34.1,-15.95],[-35,-20.9],[-13.85,-29.9],[15.95,12.3],[18.95,8.9],[23,5.05],[27.95,13.1],[12.85,-29.8],[20.9,-23.9],[-20.15,26.1],[-45.6,-10.6],[-35,-20.9],[-58,-44.6]];

const crossA = [0, 0];
const crossB = [36, 10];
const arrowA = [[12.05, 17.9], [1.9, 3.05]];
const arrowB = [[32.6, 27.3], [35.2, 13]];

/* Drawing */

var width = 2932;
var height = 1418;
var top_y = 30.5, bottom_y = 1322;

var color = d3.scaleLinear()
	.domain([-1, -.5, 0, .5, 1])
	.range(["#00004d", "#0000ff", "#ffffff", "#ff0000", "#800000"]);

var levelOf = {};
levelKeys.split("").forEach(function(k, i) { levelOf[k] = levelValues[i]; });

var svg = d3.select("body").append("svg")
	.attr("width", width)
	.attr("height", height);

function unpackCells(rows) {
	var cells = [];
	for (let row of rows) {
		for (let i = 1; i < row.length; i += 2) {
			row[i + 1].split("").forEach(function(k, j) {
				if (k != ".") cells.push({x: row[i] + j, y: row[0], v: levelOf[k]});
			});
		}
	}
	return cells;
}

function drawPanel(id, left, cells, loops, lines, dots, cross, arrow, label, showY) {
	var x = d3.scaleLinear().domain([-60, 40]).range([left, left + 1300]);
	var y = d3.scaleLinear().domain([-60, 30]).range([bottom_y, top_y]);

	svg.append("clipPath").attr("id", "clip" + id).append("rect")
		.attr("x", left).attr("y", top_y).attr("width", 1300).attr("height", bottom_y - top_y);

	var g = svg.append("g").attr("clip-path", "url(#clip" + id + ")");

	// grid cells sit a little off the whole km
	g.selectAll("rect.cell").data(unpackCells(cells)).enter().append("rect")
		.attr("class", "cell")
		.attr("x", function(d) { return x(d.x + .1); })
		.attr("y", function(d) { return y(d.y + 1.25); })
		.attr("width", x(1) - x(0))
		.attr("height", y(0) - y(1))
		.attr("fill", function(d) { return color(d.v); })
		.attr("shape-rendering", "crispEdges");

	var closedLine = d3.line().x(function(d) { return x(d[0]); }).y(function(d) { return y(d[1]); })
		.curve(d3.curveCatmullRomClosed.alpha(.5));
	var openLine = d3.line().x(function(d) { return x(d[0]); }).y(function(d) { return y(d[1]); })
		.curve(d3.curveCatmullRom.alpha(.5));

	g.selectAll("path.loop").data(loops).enter().append("path")
		.attr("class", "loop").attr("d", closedLine)
		.attr("fill", "none").attr("stroke", "#000").attr("stroke-width", 3.5).attr("stroke-linejoin", "round");
	g.selectAll("path.open").data(lines).enter().append("path")
		.attr("class", "open").attr("d", openLine)
		.attr("fill", "none").attr("stroke", "#000").attr("stroke-width", 3.5).attr("stroke-linejoin", "round");
	g.selectAll("circle.dot").data(dots).enter().append("circle")
		.attr("class", "dot")
		.attr("cx", function(d) { return x(d[0]); })
		.attr("cy", function(d) { return y(d[1]); })
		.attr("r", 3).attr("fill", "#000");

	// green arrow
	var p0 = [x(arrow[0][0]), y(arrow[0][1])], p1 = [x(arrow[1][0]), y(arrow[1][1])];
	var len = Math.hypot(p1[0] - p0[0], p1[1] - p0[1]);
	var ux = (p1[0] - p0[0]) / len, uy = (p1[1] - p0[1]) / len;
	var nx = -uy, ny = ux;
	var bx = p1[0] - ux * 47, by = p1[1] - uy * 47;
	var arrowPts = [
		[p0[0] + nx * 8, p0[1] + ny * 8], [bx + nx * 8, by + ny * 8], [bx + nx * 24, by + ny * 24], p1,
		[bx - nx * 24, by - ny * 24], [bx - nx * 8, by - ny * 8], [p0[0] - nx * 8, p0[1] - ny * 8]
	];
	svg.append("polygon").attr("points", arrowPts.join(" ")).attr("fill", "#00b050");

	// site marker
	var times = d3.symbol().type(d3.symbolTimes).size(250);
	var mark = svg.append("g").attr("transform", "translate(" + x(cross[0]) + "," + y(cross[1]) + ")");
	mark.append("path").attr("d", times).attr("fill", "none").attr("stroke", "#fff").attr("stroke-width", 12).attr("stroke-linecap", "square");
	mark.append("path").attr("d", times).attr("fill", "none").attr("stroke", "#000").attr("stroke-width", 8.5);

	// frame and axes
	svg.append("rect").attr("x", left).attr("y", top_y).attr("width", 1300).attr("height", bottom_y - top_y)
		.attr("fill", "none").attr("stroke", "#000").attr("stroke-width", 2);

	var xAxis = d3.axisBottom(x).tickValues(xTicks).tickSize(9).tickPadding(8)
		.tickFormat(function(d) { return (showY || d != -60) ? d3.format("d")(d) : ""; });
	var ax = svg.append("g").attr("transform", "translate(0," + bottom_y + ")").call(xAxis);
	var yAxis = d3.axisLeft(y).tickValues(yTicks).tickSize(9).tickPadding(8)
		.tickFormat(function(d) { return showY ? d3.format("d")(d) : ""; });
	var ay = svg.append("g").attr("transform", "translate(" + left + ",0)").call(yAxis);
	for (let a of [ax, ay]) {
		a.select(".domain").remove();
		a.selectAll("line").attr("stroke", "#000").attr("stroke-width", 2);
		a.selectAll("text").attr("font-size", 27).attr("font-family", "DejaVu Sans").attr("fill", "#111");
	}

	svg.append("text").attr("x", left + 649).attr("y", 1404)
		.attr("text-anchor", "middle").attr("font-size", 36).text("x-location from SGP site (km)");
	svg.append("text").attr("x", left + 1254).attr("y", 1304)
		.attr("text-anchor", "middle").attr("font-size", 43)
		.style("font-family", "Liberation Sans").style("fill", "#333").text(label);
}

drawPanel("a", 214.5, cellsA, loopsA, linesA, dotsA, crossA, arrowA, "(a)", true);
drawPanel("b", 1567, cellsB, loopsB, linesB, dotsB, crossB, arrowB, "(b)", false);

svg.append("text").attr("transform", "translate(111,673) rotate(-90)")
	.attr("text-anchor", "middle").attr("font-size", 36).text("y-location from SGP site (km)");
</script>
</body>
</html>
